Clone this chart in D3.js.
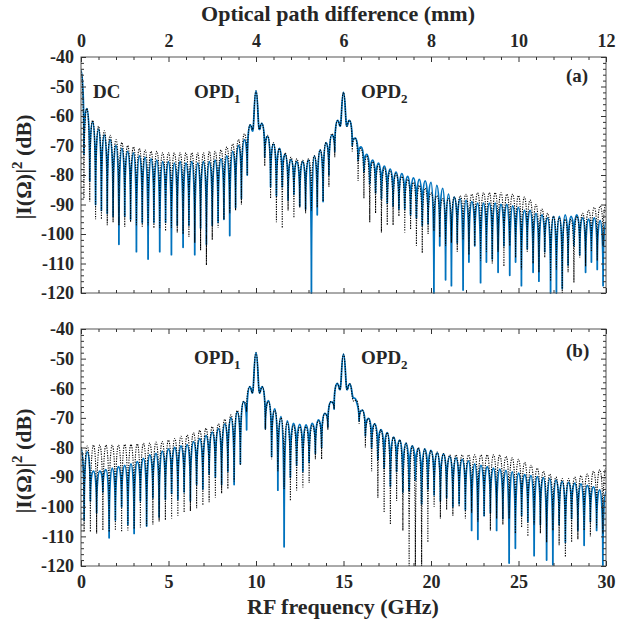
<!DOCTYPE html>
<html lang="en">
<head>
<meta charset="utf-8">
<title>RF spectra</title>
<script src="https://d3js.org/d3.v7.min.js"></script>
<style>
  body { margin: 0; background: #fff; }
  svg { display: block; background: #fff; }
  text { font-family: "Liberation Serif", "Times New Roman", serif; font-weight: bold; fill: #262626; }
  .tick line { stroke: #333; }
</style>
</head>
<body>
<svg id="chart" width="618" height="624"></svg>
<script>
// lobe spacing (GHz) for each panel: peaks sit on k*step, nulls half way between
var stepA = 1 / 3, stepB = 5 / 14;

// panel (a): peak / null levels in dB, read lobe by lobe
var aBluePeaks = [
  -44.5, -57.5, -62, -64.5, -66.5, -68, -70, -71, -72, -72.5,
  -73.5, -74, -74.5, -75, -75.5, -75.5, -76, -75.5, -76, -75.5,
  -76, -75.5, -75.5, -75, -74.5, -73.5, -72, -70, -68, -63,
  -51.5, -62.5, -67, -69.5, -71, -73, -74.8, -75.5, -75.5, -75,
  -73.5, -71.5, -69, -66.5, -61.5, -52, -61.5, -67.5, -70.5, -73,
  -75, -76, -77, -78, -79, -79.5, -80.5, -81, -81.5, -82,
  -82.5, -83.5, -84.5, -86.5, -87.5, -88, -88.5, -89, -89.5, -89.5,
  -89.5, -89.5, -90, -90, -90.5, -91, -92, -92, -93, -93.5,
  -94.5, -94, -94, -93.5, -94, -93.5, -94.5, -95, -94.5, -95.5, -96
];
var aBlueNulls = [
  -73, -82, -90, -92, -93, -94, -103.5, -94, -95, -106,
  -96, -108.5, -96, -106, -96, -107, -97, -104.5, -97, -107,
  -98, -103.5, -97, -96, -95, -100.5, -91, -88, -80, -64.5,
  -64, -74, -84, -87, -84, -88.5, -86.5, -90.5, -91.5, -120,
  -93.5, -89, -80, -72, -63, -63, -70, -75, -79, -83,
  -86, -88, -89.5, -90.5, -91.5, -91.5, -93.5, -94.5, -97, -96.5,
  -120, -104, -115.5, -117.5, -103, -119, -109.5, -104, -116.5, -109.5,
  -108.5, -113, -104, -114, -109.5, -117.5, -105, -113, -116, -106,
  -120, -120, -118.5, -110.5, -104, -107, -113, -109.5, -112, -117.5
];
var aBlackPeaks = [
  -45, -57.5, -61.5, -63.5, -65, -66.5, -68, -69, -70, -70.5,
  -71, -71.5, -72, -72, -72.5, -72.5, -72.5, -72.5, -72.5, -72.5,
  -72.5, -72.5, -72, -72, -71.5, -70.5, -69.5, -68, -66, -63,
  -51.5, -62.5, -66.5, -69, -71, -72.5, -74, -74.5, -75, -74.5,
  -73.5, -71.5, -69, -66, -61.5, -52, -61.5, -67.5, -71, -73.5,
  -75.5, -76.5, -77.5, -78.5, -79.5, -80.5, -81.5, -82.5, -83.5, -84.5,
  -86, -87, -88, -88, -87.5, -87, -86.5, -86.5, -86, -86,
  -86, -86, -86, -86.5, -86.5, -87, -87.5, -88.5, -90, -91.5,
  -93, -94, -94.5, -95, -95, -94, -93, -92, -91, -90.5, -90
];
var aBlackNulls = [
  -88, -89, -95, -95, -97, -96, -97, -97.5, -96, -97,
  -97.5, -97, -98, -98, -99, -98, -99.5, -100, -101, -103,
  -105.5, -110.5, -102, -98, -95, -93, -92, -90, -80, -64,
  -64, -77, -88, -96, -98, -92, -94.5, -91, -93, -92,
  -91, -89, -84, -74, -63, -63, -72, -82, -88, -96,
  -93, -99.5, -97, -97, -94, -99.5, -98.5, -104, -106.5, -100,
  -99, -101, -104, -103, -106, -102, -107, -104, -109, -106,
  -110, -106, -111, -104, -108, -112, -106, -110, -113, -108,
  -116, -112, -120, -113, -116.5, -108, -111, -106, -109, -104
];

// panel (b)
var bBluePeaks = [
  -80.5, -81.5, -88, -88, -87.5, -87, -86.5, -86, -85.5, -84.8,
  -83.7, -82.5, -82, -81.2, -80.5, -80, -79.5, -79, -78, -77,
  -76, -74.8, -73.6, -72, -70, -68, -64.5, -59.5, -48, -59.5,
  -64.2, -67, -69.6, -71, -71.9, -72.2, -72.4, -71.9, -70.7, -68.5,
  -64.6, -58.4, -48.5, -58.5, -64, -67.4, -70.2, -72, -74, -75,
  -76.5, -77.5, -78.5, -79.5, -80.3, -80.5, -81, -81.8, -82.2, -83,
  -83.5, -84, -84.5, -85.5, -86, -86.5, -87, -87.3, -87.7, -88.2,
  -88.7, -89.2, -89.5, -89.8, -90.2, -90.5, -91, -91.5, -91.8, -92,
  -92.3, -92.8, -93.3, -94.3, -95
];
var bBlueNulls = [
  -104.5, -98, -102, -95, -110.5, -104.5, -100, -106, -109, -98,
  -106.5, -97, -103.5, -97.5, -95.5, -97.5, -95, -98, -92.5, -94,
  -89, -90, -92.5, -88, -92.5, -85.5, -74, -61, -61, -73.6,
  -83, -94.4, -113.5, -90, -86, -88, -85, -82, -80, -73,
  -67, -60, -60, -63, -71, -76, -80, -84, -87, -93,
  -88, -95, -94.5, -91, -99, -94, -96, -98, -97, -100,
  -99, -101, -108, -111, -103, -102, -108, -104, -119, -114,
  -103, -105, -116.5, -106, -118, -119.6, -106, -112, -104, -108,
  -113, -105, -108, -120
];
var bBlackPeaks = [
  -80, -79.5, -79.2, -79.2, -79.2, -79.2, -79.2, -79, -79, -78.8,
  -78.6, -78.5, -78.2, -78, -77.5, -77, -76.2, -75.8, -75, -74.2,
  -73.5, -73, -72, -70.5, -69, -67.5, -64.5, -59.5, -48, -59.5,
  -64.5, -67.5, -70, -71.5, -72.5, -73, -73, -72.5, -71, -68.5,
  -64.5, -58.5, -48.5, -58.5, -64, -67.4, -70.2, -72, -74, -75,
  -76.5, -77.5, -78.5, -79.5, -80, -80.5, -81, -81.5, -82, -82.5,
  -82.5, -82.5, -82.5, -82.5, -82.5, -82.5, -82.5, -82.5, -83, -83.5,
  -84, -85, -86, -87, -88, -89, -90, -90.5, -90.5, -90,
  -89.5, -89, -88, -87.5, -87
];
var bBlackNulls = [
  -108.5, -108.5, -109, -108, -108.5, -108, -108.5, -108, -107.5, -107,
  -106.5, -106, -105, -104.5, -104, -103, -102, -101.5, -100.5, -99.5,
  -98.5, -97, -95.5, -94, -91.5, -86, -68, -61, -61, -74,
  -84, -88, -94, -98, -94.5, -93.5, -92, -84, -84, -74,
  -67, -60, -60, -64, -72, -80, -88, -97, -102, -106,
  -98, -108, -120, -120, -120, -112, -100, -104, -101, -103,
  -100, -104, -102, -105, -103, -108, -104, -106, -104, -109,
  -107, -110, -106, -109, -112, -108, -113, -117, -112, -111,
  -108, -110, -107, -109
];

var yTicks = [-40, -50, -60, -70, -80, -90, -100, -110, -120];
var freqTicks = [0, 5, 10, 15, 20, 25, 30];
var opdTicks = [0, 2, 4, 6, 8, 10, 12];

var blue = "#0072BD";
var L = 81, R = 606;

var svg = d3.select("#chart");

var x = d3.scaleLinear().domain([0, 30]).range([L, R]);
var xmm = d3.scaleLinear().domain([0, 12]).range([L, R]);

// alternating list: peak, null, peak, null ... peak
function lobes(peaks, nulls, step) {
  var pts = [];
  peaks.forEach(function(p, i) {
    pts.push([i * step, p]);
    if (i < nulls.length) pts.push([(i + 0.5) * step, nulls[i]]);
  });
  return pts;
}

// round arch over each peak, sharp cusp into deep nulls,
// smooth pass through shallow ones (main lobe flanks)
function archPath(pts, y) {
  var P = pts.map(function(d) { return [x(d[0]), y(d[1])]; });
  var n = P.length;
  var kind = P.map(function(p, i) {
    if (i === 0 || i === n - 1) return { t: "h" };
    var up = P[i - 1][1], dn = P[i + 1][1];
    if (p[1] <= up && p[1] <= dn) return { t: "h" };
    if (p[1] >= up && p[1] >= dn && Math.min(p[1] - up, p[1] - dn) > 6) return { t: "v" };
    return { t: "s", s: (dn - up) / (P[i + 1][0] - P[i - 1][0]) };
  });
  var path = d3.path();
  path.moveTo(P[0][0], P[0][1]);
  for (var j = 1; j < n; j++) {
    var a = P[j - 1], b = P[j], dx = b[0] - a[0], ka = kind[j - 1], kb = kind[j];
    var c1, c2;
    if (ka.t === "h") c1 = [a[0] + 0.55 * dx, a[1]];
    else if (ka.t === "v") c1 = [a[0], a[1] + 0.7 * (b[1] - a[1])];
    else c1 = [a[0] + dx / 3, a[1] + ka.s * dx / 3];
    if (kb.t === "h") c2 = [b[0] - 0.55 * dx, b[1]];
    else if (kb.t === "v") c2 = [b[0], b[1] + 0.7 * (a[1] - b[1])];
    else c2 = [b[0] - dx / 3, b[1] - kb.s * dx / 3];
    path.bezierCurveTo(c1[0], c1[1], c2[0], c2[1], b[0], b[1]);
  }
  return path.toString();
}

function clean(g) { g.select(".domain").remove(); }

var yMinor = d3.range(-118, -40, 2).filter(function(v) { return v % 10 !== 0; });
var xMinor = d3.range(0, 31).filter(function(v) { return v % 5 !== 0; });
var mmMinor = d3.range(0, 12.01, 0.4).filter(function(v) { return Math.abs(v / 2 - Math.round(v / 2)) > 0.01; });

function panel(id, top, bottom, step, bp, bn, kp, kn, showTop, showBottom) {
  var y = d3.scaleLinear().domain([-120, -40]).range([bottom, top]);
  var g = svg.append("g");

  g.append("clipPath").attr("id", "clip" + id)
    .append("rect").attr("x", L).attr("y", top - 1).attr("width", R - L).attr("height", bottom - top + 2);

  var plot = g.append("g").attr("clip-path", "url(#clip" + id + ")");
  plot.append("path")
    .attr("d", archPath(lobes(bp, bn, step), y)).attr("fill", "none")
    .attr("stroke", blue).attr("stroke-width", 1.8).attr("stroke-linejoin", "round");
  plot.append("path")
    .attr("d", archPath(lobes(kp, kn, step), y)).attr("fill", "none")
    .attr("stroke", "#000").attr("stroke-width", 1.1)
    .attr("stroke-dasharray", "1.2,1.3");

  // frame
  g.append("rect").attr("x", L).attr("y", top).attr("width", R - L).attr("height", bottom - top)
    .attr("fill", "none").attr("stroke", "#555").attr("stroke-width", 1);

  // y axes
  g.append("g").attr("transform", "translate(" + L + ",0)")
    .call(d3.axisLeft(y).tickValues(yTicks).tickSize(-5).tickPadding(7).tickFormat(function(d) { return String(d); }))
    .call(clean)
    .selectAll("text").attr("font-size", 18).attr("font-family", null);
  g.append("g").attr("transform", "translate(" + L + ",0)")
    .call(d3.axisLeft(y).tickValues(yMinor).tickSize(-3).tickFormat(""))
    .call(clean);
  g.append("g").attr("transform", "translate(" + R + ",0)")
    .call(d3.axisRight(y).tickValues(yTicks).tickSize(-5).tickFormat(""))
    .call(clean);
  g.append("g").attr("transform", "translate(" + R + ",0)")
    .call(d3.axisRight(y).tickValues(yMinor).tickSize(-3).tickFormat(""))
    .call(clean);

  // bottom axis
  var xb = g.append("g").attr("transform", "translate(0," + bottom + ")")
    .call(d3.axisBottom(x).tickValues(freqTicks).tickSize(-5).tickPadding(9)
      .tickFormat(showBottom ? function(d) { return String(d); } : ""))
    .call(clean);
  xb.selectAll("text").attr("font-size", 18).attr("font-family", null);
  g.append("g").attr("transform", "translate(0," + bottom + ")")
    .call(d3.axisBottom(x).tickValues(xMinor).tickSize(-3).tickFormat(""))
    .call(clean);

  // top axis
  if (showTop) {
    g.append("g").attr("transform", "translate(0," + top + ")")
      .call(d3.axisTop(xmm).tickValues(opdTicks).tickSize(-5).tickPadding(10).tickFormat(function(d) { return String(d); }))
      .call(clean)
      .selectAll("text").attr("font-size", 18).attr("font-family", null);
    g.append("g").attr("transform", "translate(0," + top + ")")
      .call(d3.axisTop(xmm).tickValues(mmMinor).tickSize(-3).tickFormat(""))
      .call(clean);
  } else {
    g.append("g").attr("transform", "translate(0," + top + ")")
      .call(d3.axisTop(x).tickValues(freqTicks).tickSize(-5).tickFormat(""))
      .call(clean);
    g.append("g").attr("transform", "translate(0," + top + ")")
      .call(d3.axisTop(x).tickValues(xMinor).tickSize(-3).tickFormat(""))
      .call(clean);
  }
  g.selectAll(".tick line").attr("stroke", "#333");
  g.selectAll(".tick text").attr("fill", "#262626");
  return g;
}

var ga = panel("a", 57, 293, stepA, aBluePeaks, aBlueNulls, aBlackPeaks, aBlackNulls, true, false);
var gb = panel("b", 329, 566, stepB, bBluePeaks, bBlueNulls, bBlackPeaks, bBlackNulls, false, true);

// annotations
function opd(g, px, py, sub) {
  var t = g.append("text").attr("x", px).attr("y", py).attr("font-size", 19);
  t.append("tspan").text("OPD");
  t.append("tspan").attr("font-size", 13).attr("dy", 5).text(sub);
}
ga.append("text").attr("x", 93).attr("y", 98).attr("font-size", 19).text("DC");
opd(ga, 194, 98, "1");
opd(ga, 361, 98, "2");
ga.append("text").attr("x", 566).attr("y", 82).attr("font-size", 19).text("(a)");
opd(gb, 194, 364, "1");
opd(gb, 361, 364, "2");
gb.append("text").attr("x", 566).attr("y", 357).attr("font-size", 19).text("(b)");

// axis titles
svg.append("text").attr("x", 338).attr("y", 21).attr("text-anchor", "middle")
  .attr("font-size", 22).text("Optical path difference (mm)");
svg.append("text").attr("x", 343).attr("y", 614).attr("text-anchor", "middle")
  .attr("font-size", 22).text("RF frequency (GHz)");

function yTitle(cy) {
  var t = svg.append("text").attr("transform", "translate(31," + cy + ") rotate(-90)")
    .attr("text-anchor", "middle").attr("font-size", 22);
  t.append("tspan").text("|I(\u03A9)|");
  t.append("tspan").attr("font-size", 15).attr("dy", -9).text("2");
  t.append("tspan").attr("dy", 9).text(" (dB)");
}
yTitle(167);
yTitle(461);
</script>
</body>
</html>
